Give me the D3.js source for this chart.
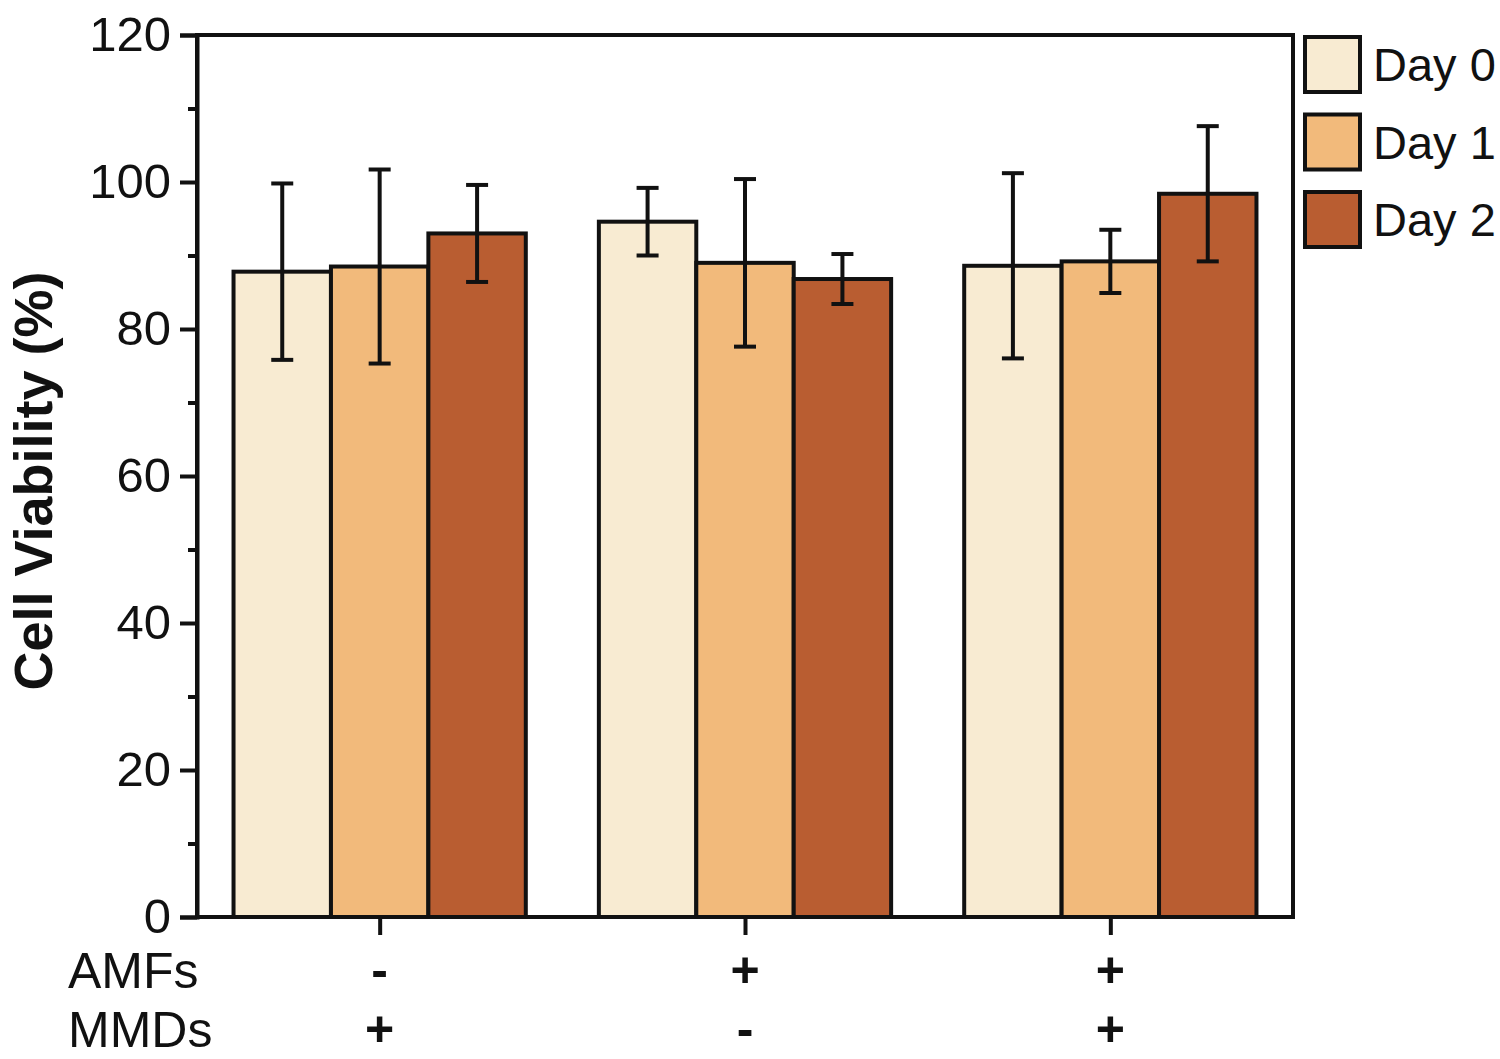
<!DOCTYPE html>
<html>
<head>
<meta charset="utf-8">
<script src="https://cdn.jsdelivr.net/npm/d3@7"></script>
<style>
  html, body { margin: 0; padding: 0; background: #fff; }
  svg { display: block; font-family: "Liberation Sans", Arial, Helvetica, sans-serif; }
</style>
</head>
<body>
<svg id="chart" width="1500" height="1059"></svg>
<script>
// ---- data ----
const groups = ["G1", "G2", "G3"];
const series = ["Day 0", "Day 1", "Day 2"];
const colors = ["#F8EBD2", "#F2BA7B", "#B95D31"];
const day0 = [87.8, 94.6, 88.6];
const day1 = [88.5, 89.0, 89.2];
const day2 = [93.0, 86.8, 98.4];
const err0 = [12.0, 4.6, 12.6];
const err1 = [13.2, 11.4, 4.3];
const err2 = [6.6, 3.4, 9.2];
const amfs = ["-", "+", "+"];
const mmds = ["+", "-", "+"];
const yTicks = [0, 20, 40, 60, 80, 100, 120];
const yMinor = [10, 30, 50, 70, 90, 110];

const values = [day0, day1, day2];
const errors = [err0, err1, err2];

// ---- layout ----
const svg = d3.select("#chart");
const pL = 197, pR = 1293, pT = 35, pB = 917;

const x = d3.scaleLinear().domain([0.5, 3.5]).range([pL, pR]);
const y = d3.scaleLinear().domain([0, 120]).range([pB, pT]);
const inner = d3.scaleBand().domain(series).range([-0.4, 0.4]).padding(0);

const g = svg.append("g");

// bars
series.forEach((s, si) => {
  g.selectAll(null).data(groups).enter().append("rect")
    .attr("x", (d, i) => x(i + 1 + inner(s)))
    .attr("width", (d, i) => x(i + 1 + inner(s) + inner.bandwidth()) - x(i + 1 + inner(s)))
    .attr("y", (d, i) => y(values[si][i]))
    .attr("height", (d, i) => y(0) - y(values[si][i]))
    .attr("fill", colors[si])
    .attr("stroke", "#111")
    .attr("stroke-width", 4);
});

// error bars
const cap = 11;
series.forEach((s, si) => {
  groups.forEach((d, i) => {
    const cx = x(i + 1 + inner(s) + inner.bandwidth() / 2);
    const hi = y(values[si][i] + errors[si][i]);
    const lo = y(values[si][i] - errors[si][i]);
    const eg = g.append("g").attr("stroke", "#111").attr("stroke-width", 4);
    eg.append("line").attr("x1", cx).attr("x2", cx).attr("y1", hi).attr("y2", lo);
    eg.append("line").attr("x1", cx - cap).attr("x2", cx + cap).attr("y1", hi).attr("y2", hi);
    eg.append("line").attr("x1", cx - cap).attr("x2", cx + cap).attr("y1", lo).attr("y2", lo);
  });
});

// frame
g.append("rect")
  .attr("x", pL).attr("y", pT)
  .attr("width", pR - pL).attr("height", pB - pT)
  .attr("fill", "none").attr("stroke", "#111").attr("stroke-width", 4);

// y axis major
const yAxis = g.append("g").attr("transform", `translate(${pL},0)`)
  .call(d3.axisLeft(y).tickValues(yTicks).tickSize(17).tickPadding(9).tickFormat(d3.format("d")));
yAxis.select(".domain").attr("stroke", "#111").attr("stroke-width", 4);
yAxis.selectAll(".tick line").attr("stroke", "#111").attr("stroke-width", 4);
yAxis.selectAll(".tick text").attr("font-size", 49).attr("fill", "#111")
  .attr("font-family", "Liberation Sans, Arial, sans-serif");

// y axis minor
const yMin = g.append("g").attr("transform", `translate(${pL},0)`)
  .call(d3.axisLeft(y).tickValues(yMinor).tickSize(9).tickFormat(""));
yMin.select(".domain").remove();
yMin.selectAll(".tick line").attr("stroke", "#111").attr("stroke-width", 4);

// x axis
const xAxis = g.append("g").attr("transform", `translate(0,${pB})`)
  .call(d3.axisBottom(x).tickValues([1, 2, 3]).tickSize(18).tickFormat(""));
xAxis.select(".domain").remove();
xAxis.selectAll(".tick line").attr("stroke", "#111").attr("stroke-width", 4);

// row labels
const rowFont = 50;
g.append("text").attr("x", 68).attr("y", 988).attr("font-size", rowFont).attr("fill", "#111").text("AMFs");
g.append("text").attr("x", 68).attr("y", 1047).attr("font-size", rowFont).attr("fill", "#111").text("MMDs");
g.selectAll(null).data(amfs).enter().append("text")
  .attr("x", (d, i) => x(i + 1)).attr("y", 987)
  .attr("text-anchor", "middle").attr("font-size", rowFont).attr("font-weight", "bold").attr("fill", "#111")
  .text(d => d);
g.selectAll(null).data(mmds).enter().append("text")
  .attr("x", (d, i) => x(i + 1)).attr("y", 1046)
  .attr("text-anchor", "middle").attr("font-size", rowFont).attr("font-weight", "bold").attr("fill", "#111")
  .text(d => d);

// y title
g.append("text")
  .attr("transform", `translate(52,${(pT + pB) / 2 + 5}) rotate(-90)`)
  .attr("text-anchor", "middle")
  .attr("font-size", 54).attr("font-weight", "bold").attr("fill", "#111")
  .text("Cell Viability (%)");

// legend
const leg = g.append("g");
series.forEach((s, si) => {
  const ly = 37 + si * 77.5;
  leg.append("rect").attr("x", 1305).attr("y", ly).attr("width", 55).attr("height", 55)
    .attr("fill", colors[si]).attr("stroke", "#111").attr("stroke-width", 4);
  leg.append("text").attr("x", 1373).attr("y", ly + 44)
    .attr("font-size", 47).attr("fill", "#111").text(s);
});
</script>
</body>
</html>
